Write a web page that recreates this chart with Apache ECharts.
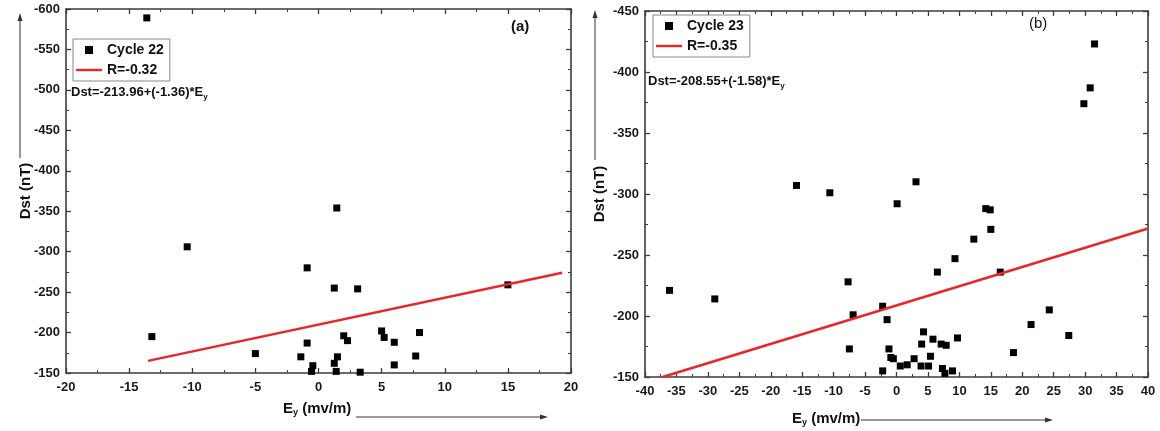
<!DOCTYPE html>
<html>
<head>
<meta charset="utf-8">
<script src="https://cdn.jsdelivr.net/npm/echarts@6/dist/echarts.min.js"></script>
<style>
html, body { margin: 0; padding: 0; background: #fff; }
#main { width: 1160px; height: 431px; }
</style>
</head>
<body>
<div id="main"></div>
<script>
// panel (a) - cycle 22
var cycle22 = [[-13.6,-589],[-13.2,-195],[-10.4,-306],[-5.0,-174],[-1.4,-170],[1.45,-354],[-0.9,-280],
  [1.25,-255],[3.1,-254],[15.0,-259],[-0.9,-187],[2.0,-196],[2.3,-190],[5.0,-202],[5.2,-194],[6.0,-188],
  [8.0,-200],[7.7,-171],[6.0,-160],[1.5,-170],[1.25,-162],[-0.45,-159],[-0.55,-152],[1.4,-152],[3.3,-151]];
var fit22 = [[-13.5,-165],[19.3,-274]];
var xRangeA = [-20, 20, 5];
var yRangeA = [-600, -150, 50];

// panel (b) - cycle 23
var cycle23 = [[-36.1,-221],[-28.9,-214],[-15.9,-307],[-10.6,-301],[-7.7,-228],[-6.9,-201],[-7.5,-173],
  [0.1,-292],[3.1,-310],[14.2,-288],[14.9,-287],[15.0,-271],[12.3,-263],[9.3,-247],[6.5,-236],[16.5,-236],
  [29.8,-374],[30.8,-387],[31.5,-423],[-2.2,-208],[-1.5,-197],[24.3,-205],[21.4,-193],[27.4,-184],[18.6,-170],
  [4.3,-187],[4.0,-177],[5.8,-181],[7.1,-177],[7.9,-176],[9.7,-182],[-1.2,-173],[-0.9,-166],[-0.5,-165],
  [2.8,-165],[5.4,-167],[0.6,-159],[1.7,-160],[3.9,-159],[5.1,-159],[-2.2,-155],[7.3,-157],[7.7,-153],[8.9,-155]];
var fit23 = [[-37.2,-150],[40,-271.7]];
var xRangeB = [-40, 40, 5];
var yRangeB = [-450, -150, 50];

var names = ['Cycle 22', 'R=-0.32', 'Cycle 23', 'R=-0.35'];

var FONT = 'Liberation Sans, Arial, sans-serif';
var AX = '#3c3c3c';
// legend icons padded to the full 26x8 box so the square stays small
var ICON_SQ = 'path://M0,4L0,4M9,0L17,0L17,8L9,8ZM26,4L26,4';
var ICON_LN = 'path://M0,0L0,0M0,2.8L26,2.8L26,5.2L0,5.2ZM26,8L26,8';

function axis(grid, pos, range, showLabel) {
  var vertical = (pos === 'left' || pos === 'right');
  return {
    type: 'value', gridIndex: grid, position: pos,
    min: range[0], max: range[1], interval: range[2],
    inverse: vertical,
    axisLine: { show: true, onZero: false, lineStyle: { color: AX, width: 1.6 } },
    axisTick: { show: true, inside: true, length: 5, lineStyle: { color: AX, width: 1.3 } },
    minorTick: { show: true, splitNumber: 2, length: 3, lineStyle: { color: AX, width: 1 } },
    splitLine: { show: false },
    minorSplitLine: { show: false },
    axisLabel: { show: showLabel, color: '#1a1a1a', fontSize: 13, fontWeight: 'bold', fontFamily: FONT, margin: vertical ? 6 : 8 }
  };
}

function legendBox(l, t, data) {
  return {
    data: [{ name: data[0], icon: ICON_SQ }, { name: data[1], icon: ICON_LN }],
    orient: 'vertical', left: l, top: t,
    itemWidth: 26, itemHeight: 8, itemGap: 6, padding: [4, 6, 4, 3],
    borderColor: '#888', borderWidth: 1, backgroundColor: '#fff',
    selectedMode: false,
    textStyle: { fontSize: 14, fontWeight: 'bold', color: '#111', fontFamily: FONT }
  };
}

function eqText(x, y, main) {
  return {
    type: 'text', left: x, top: y,
    style: {
      text: '{a|' + main + '}{s|y}',
      rich: {
        a: { fontSize: 13, fontWeight: 'bold', fontFamily: FONT, fill: '#111' },
        s: { fontSize: 8, fontWeight: 'bold', fontFamily: FONT, fill: '#111', padding: [8, 0, 0, 0] }
      }
    }
  };
}

function yName(cx, cy, ax, topY, botY) {
  return [
    { type: 'text', x: cx, y: cy, rotation: Math.PI / 2,
      style: { text: 'Dst (nT)', fontSize: 15, fontWeight: 'bold', fontFamily: FONT, fill: '#111', align: 'center', verticalAlign: 'middle' } },
    { type: 'line', shape: { x1: ax, y1: botY, x2: ax, y2: topY + 4 }, style: { stroke: '#333', lineWidth: 1 } },
    { type: 'polygon', shape: { points: [[ax - 2.5, topY + 8], [ax, topY], [ax + 2.5, topY + 8]] }, style: { fill: '#333' } }
  ];
}

function xName(lx, ly, x1, x2, ay) {
  return [
    { type: 'text', left: lx, top: ly,
      style: {
        text: '{b|E}{s|y}{b| (mv/m)}',
        rich: {
          b: { fontSize: 15, fontWeight: 'bold', fontFamily: FONT, fill: '#111' },
          s: { fontSize: 9, fontWeight: 'bold', fontFamily: FONT, fill: '#111', padding: [9, 0, 0, 0] }
        }
      } },
    { type: 'line', shape: { x1: x1, y1: ay, x2: x2 - 4, y2: ay }, style: { stroke: '#333', lineWidth: 1 } },
    { type: 'polygon', shape: { points: [[x2 - 8, ay - 2.5], [x2, ay], [x2 - 8, ay + 2.5]] }, style: { fill: '#333' } }
  ];
}

var chart = echarts.init(document.getElementById('main'), null, { renderer: 'canvas' });

chart.setOption({
  backgroundColor: '#fff',
  animation: false,
  grid: [
    { left: 66, top: 9, width: 505, height: 364 },
    { left: 645, top: 11, width: 503, height: 366 }
  ],
  xAxis: [
    axis(0, 'bottom', xRangeA, true), axis(0, 'top', xRangeA, false),
    axis(1, 'bottom', xRangeB, true), axis(1, 'top', xRangeB, false)
  ],
  yAxis: [
    axis(0, 'left', yRangeA, true), axis(0, 'right', yRangeA, false),
    axis(1, 'left', yRangeB, true), axis(1, 'right', yRangeB, false)
  ],
  legend: [
    legendBox(73, 39, [names[0], names[1]]),
    legendBox(653, 15, [names[2], names[3]])
  ],
  series: [
    { name: names[0], type: 'scatter', xAxisIndex: 0, yAxisIndex: 0, data: cycle22,
      symbol: 'rect', symbolSize: 7, itemStyle: { color: '#000', opacity: 1 } },
    { name: names[1], type: 'line', xAxisIndex: 0, yAxisIndex: 0, data: fit22,
      symbol: 'none', lineStyle: { color: '#e8262c', width: 2.5 }, itemStyle: { color: '#e8262c' } },
    { name: names[2], type: 'scatter', xAxisIndex: 2, yAxisIndex: 2, data: cycle23,
      symbol: 'rect', symbolSize: 7, itemStyle: { color: '#000', opacity: 1 } },
    { name: names[3], type: 'line', xAxisIndex: 2, yAxisIndex: 2, data: fit23,
      symbol: 'none', lineStyle: { color: '#e8262c', width: 2.5 }, itemStyle: { color: '#e8262c' } }
  ],
  graphic: [
    { type: 'text', left: 511, top: 19, style: { text: '(a)', fontSize: 15, fontWeight: 'bold', fontFamily: FONT, fill: '#111' } },
    { type: 'text', left: 1029, top: 16, style: { text: '(b)', fontSize: 15, fontFamily: FONT, fill: '#111' } },
    eqText(71, 86, 'Dst=-213.96+(-1.36)*E'),
    eqText(648, 75, 'Dst=-208.55+(-1.58)*E')
  ].concat(
    yName(26, 191, 20, 13, 158),
    yName(600, 194, 595, 10, 160),
    xName(283, 401, 356, 548, 417),
    xName(792, 411, 861, 1053, 420)
  )
});
</script>
</body>
</html>
